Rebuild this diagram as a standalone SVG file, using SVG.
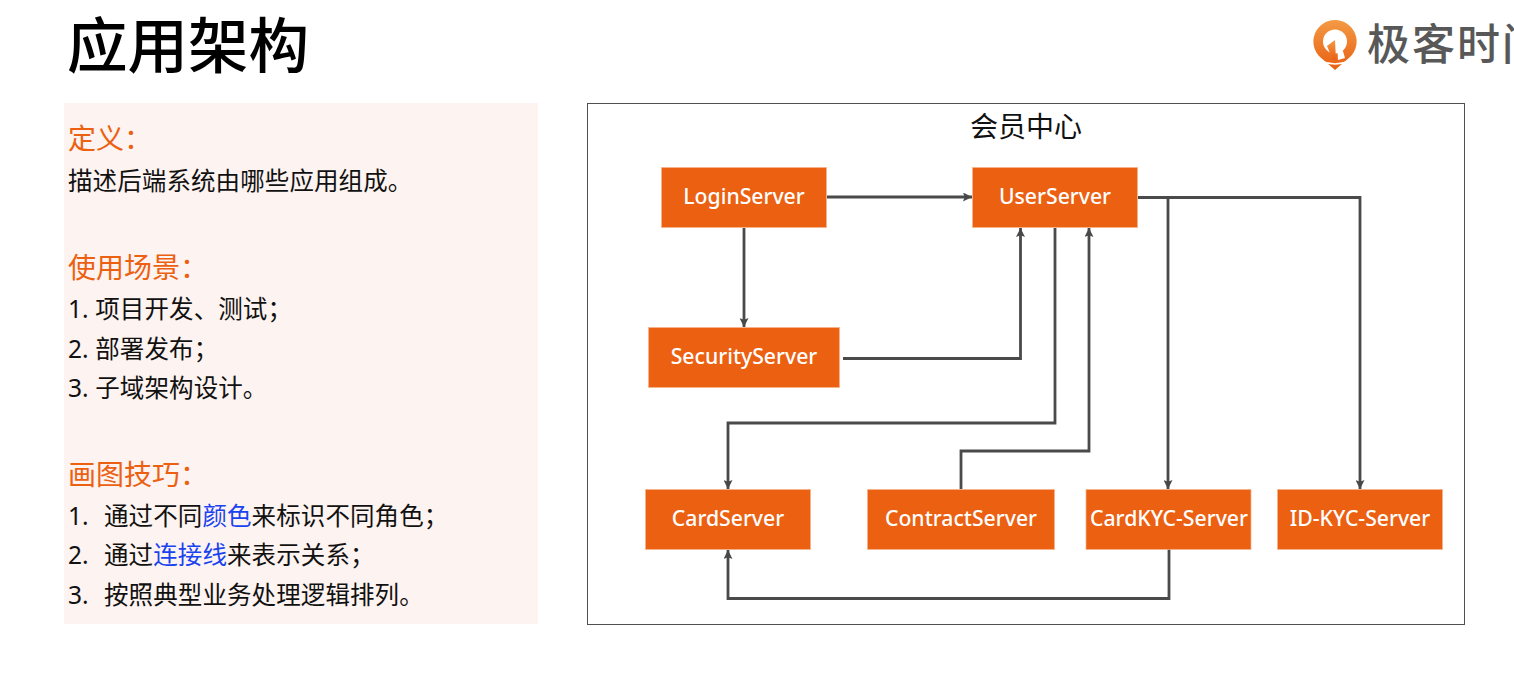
<svg xmlns="http://www.w3.org/2000/svg" width="1514" height="682" viewBox="0 0 1514 682">
<defs>
<linearGradient id="pin" x1="0" y1="0" x2="0" y2="1"><stop offset="0" stop-color="#f39a45"/><stop offset="1" stop-color="#e95f12"/></linearGradient>
<marker id="tip" viewBox="0 0 8 8" refX="8" refY="4" markerWidth="9" markerHeight="9" markerUnits="userSpaceOnUse" orient="auto"><path d="M0 0L8 4L0 8L1.500 4Z" fill="#484848"/></marker>
</defs>
<style>
text{font-family:"Noto Sans","Noto Sans CJK SC",sans-serif}
.h{font-size:28px;fill:#ec6012}
.b{font-size:24.500px;letter-spacing:0.100px;fill:#111}
.a{fill:#1a43f0}
.n rect{fill:#ec6012;stroke:#f7b48d;stroke-width:1;stroke-opacity:.7}
.n text{font-size:21.200px;fill:#fff;text-anchor:middle;font-weight:500}
.c{fill:none;stroke:#4a4a4a;stroke-width:2.800;marker-end:url(#tip)}
</style>
<rect width="1514" height="682" fill="#fff"/>
<text x="67" y="68" font-size="60.500" fill="#000" style="font-weight:500">应用架构</text>
<g id="logo">
<path d="M1335 20a21.500 21.500 0 0 1 15 37l-15 13-15-13a21.500 21.500 0 0 1 15-37Z" fill="url(#pin)"/>
<circle cx="1335" cy="41.500" r="12" fill="#fff"/>
<path d="M1335 40l-8 6 6 14 3 0Z" fill="url(#pin)"/>
<path d="M1337 41l3 0 5 17-7 2Z" fill="#fff"/>
<path d="M1321 61q14 6 28 0" fill="none" stroke="#fff" stroke-width="1.500"/>
<text x="1367" y="60" font-size="43" letter-spacing="2" fill="#585858" style="font-weight:500">极客时间</text>
</g>
<rect x="64" y="103" width="474" height="521" fill="#fdf3f0"/>
<g id="notes">
<text class="h" x="68" y="149">定义：</text>
<text class="b" x="68" y="190">描述后端系统由哪些应用组成。</text>
<text class="h" x="68" y="278">使用场景：</text>
<text class="b" x="68" y="318">1. 项目开发、测试；</text>
<text class="b" x="68" y="358">2. 部署发布；</text>
<text class="b" x="68" y="397">3. 子域架构设计。</text>
<text class="h" x="68" y="485">画图技巧：</text>
<text class="b" x="68" y="525">1.<tspan x="104">通过不同</tspan><tspan class="a">颜色</tspan>来标识不同角色；</text>
<text class="b" x="68" y="564">2.<tspan x="104">通过</tspan><tspan class="a">连接线</tspan>来表示关系；</text>
<text class="b" x="68" y="604">3.<tspan x="104">按照典型业务处理逻辑排列。</tspan></text>
</g>
<g id="frame">
<rect x="587.500" y="103.500" width="877" height="521" fill="#fff" stroke="#505050" stroke-width="1"/>
<text x="1026" y="137" font-size="28" fill="#111" text-anchor="middle">会员中心</text>
</g>
<g id="connectors">
<path class="c" d="M827 197H972"/>
<path class="c" d="M744 228V327"/>
<path class="c" d="M843 358.500H1020.500V228"/>
<path class="c" d="M1055 228V423H728V489"/>
<path class="c" d="M961 489V451H1089V228"/>
<path class="c" d="M1138 197.500H1168V489"/>
<path class="c" d="M1138 197.500H1360V489"/>
<path class="c" d="M1169 549V598.500H728V550"/>
</g>
<g id="login" class="n"><rect x="661.500" y="167.500" width="165" height="60"/><text x="744" y="204">LoginServer</text></g>
<g id="user" class="n"><rect x="972.500" y="167.500" width="165" height="60"/><text x="1055" y="204">UserServer</text></g>
<g id="security" class="n"><rect x="648.500" y="327.500" width="191" height="60"/><text x="744" y="364">SecurityServer</text></g>
<g id="card" class="n"><rect x="645.500" y="489.500" width="165" height="60"/><text x="728" y="526">CardServer</text></g>
<g id="contract" class="n"><rect x="867.500" y="489.500" width="187" height="60"/><text x="961" y="526">ContractServer</text></g>
<g id="cardkyc" class="n"><rect x="1086" y="489.500" width="165" height="60"/><text x="1169" y="526">CardKYC-Server</text></g>
<g id="idkyc" class="n"><rect x="1277.500" y="489.500" width="165" height="60"/><text x="1360" y="526">ID-KYC-Server</text></g>
</svg>
